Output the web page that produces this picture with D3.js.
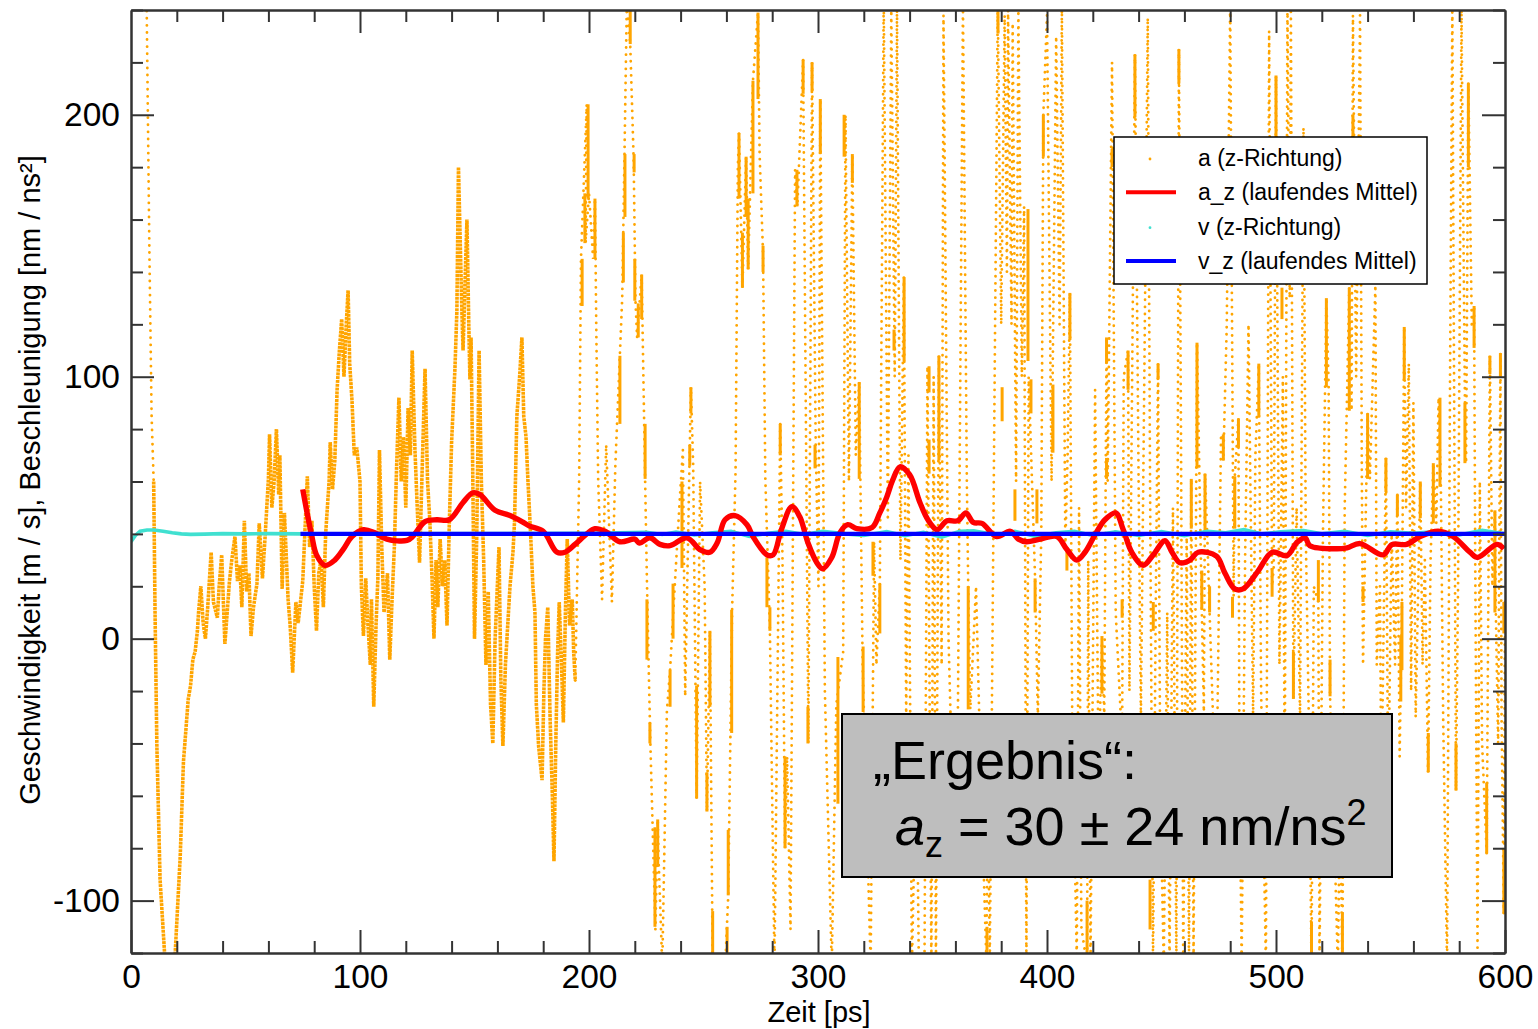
<!DOCTYPE html>
<html>
<head>
<meta charset="utf-8">
<title>Geschwindigkeit und Beschleunigung</title>
<script src="https://cdn.jsdelivr.net/npm/d3@7"></script>
<style>
  html, body { margin: 0; padding: 0; background: #fff; }
  svg { display: block; }
  text { font-family: "Liberation Sans", Arial, sans-serif; fill: #000; }
  .axis path, .axis line { stroke: #333; stroke-width: 2; }
  .axis text { font-size: 33.5px; font-family: "Liberation Sans", Arial, sans-serif; fill: #000; }
</style>
</head>
<body>
<svg id="chart" width="1538" height="1029"></svg>
<script>
// Axis ticks
const xMajor = [0, 100, 200, 300, 400, 500, 600];
const xMinor = [20, 40, 60, 80, 120, 140, 160, 180, 220, 240, 260, 280, 320, 340, 360, 380, 420, 440, 460, 480, 520, 540, 560, 580];
const yMajor = [-100, 0, 100, 200];
const yMinor = [-120, -80, -60, -40, -20, 20, 40, 60, 80, 120, 140, 160, 180, 220, 240];

// a (z-Richtung), the first fast drop from above the plot
const accelSpike = [[6.8, 245], [8, 150], [9, 85], [9.9, 60]];

// a (z-Richtung), slow trajectory, read as [t, a]
const accelDense = [
  [9.9, 60], [10.5, 10], [11.3, -41], [12.7, -92], [15, -125], [19, -125], [21.5, -83], [22.9, -47], [25, -23], [26, -18],
  [27, -8], [28, -5], [29, 3], [29.5, 10], [30.5, 20], [31.5, 6], [32.5, 0], [33.5, 12], [35, 33], [36, 14],
  [37.7, 8], [38.5, 20], [39.6, 32], [41, -2], [42, 10], [43, 22], [44, 30], [45.4, 39], [46.5, 22], [47.5, 28],
  [48.4, 12], [49.5, 45], [50.5, 18], [51.5, 25], [52.4, 1], [53.5, 12], [55, 21], [56, 44], [57.4, 23], [58.5, 38],
  [60, 61], [60.5, 78], [61.5, 50], [62.5, 60], [63.5, 80], [64.5, 55], [65, 70], [66, 19], [67, 48], [68.6, 15],
  [69.5, 5], [70.6, -13], [72, 14], [73, 6], [75, 22], [76, 42], [77, 62], [78, 35], [79, 45], [80, 20],
  [81, 3], [82, 25], [83, 30], [84, 12], [85, 40], [86.5, 60], [87, 75], [88, 57], [89, 68], [90, 95],
  [91, 110], [92, 122], [93, 100], [94, 120], [94.8, 133], [95.5, 105], [96.5, 91], [97.5, 70], [98.6, 73], [100, 60],
  [100.6, 20], [101.5, 1], [102.5, 23], [103.5, 5], [104.5, -10], [105, 15], [106, -26], [107, 5], [107.8, 23], [108.5, 72],
  [109.5, 35], [110.5, 10], [112, 25], [113, -8], [114, 15], [115, 35], [116, 66], [117, 92], [118, 60], [119, 77],
  [120, 50], [121, 88], [122, 70], [122.8, 110], [124, 72], [125, 50], [126, 29], [127, 60], [128.4, 103], [129.5, 60],
  [130.5, 45], [131.5, 22], [132.3, 0], [133.2, 30], [134, 12], [135, 38], [136, 20], [137, 30], [138, 5], [139, 44],
  [140, 75], [141.5, 104], [142.3, 125], [143, 180], [143.8, 150], [144.5, 125], [145, 110], [146, 140], [146.7, 160], [147.5, 120],
  [148, 99], [148.5, 115], [149.2, 66], [150, 0], [151, 40], [152, 110], [153, 60], [154, 30], [155, -10], [156, 18],
  [157, -25], [158, -40], [159, 0], [160.7, 35], [161.5, -15], [162.4, -41], [163.5, -10], [164.5, 5], [165.5, 20], [166.8, 33],
  [167.5, 45], [168.5, 85], [169.7, 100], [170.7, 115], [171.5, 85], [172.5, 77], [173.3, 61], [174.5, 40], [175.5, 20], [176.4, 10],
  [177, -25], [178, -41], [179.5, -54], [180.3, -20], [181, 0], [182, 12], [183, -30], [184, -60], [184.7, -85], [185.5, -40],
  [186.3, -5], [187, 14], [188, -10], [188.8, -32], [189.7, 10], [190.5, 38], [191.5, 5], [192.7, 15], [193.3, -5], [194, -16]
];

// a (z-Richtung), sparse part: fast strands read as turning points [t, a]
const accelSparse = [
  [194, -16], [195.7, 61], [196.5, 145], [199, 204], [198.5, 151], [200, 170], [201.8, 145], [202.6, 168], [203.2, 117], [204, 61], [205.7, 15],
  [207.5, 74], [210, 14], [211.5, 66], [213, 98], [214.5, 130], [215.5, 185], [216.5, 242], [218, 227], [219.5, 183], [220.3, 129],
  [221, 115], [223, 139], [224.5, 61], [225.3, 22], [226, -8], [226.8, -40], [229, -111], [230, -69], [230.5, -87], [232, -125],
  [234, -28], [235.4, -12], [237.5, 21], [239.7, 54], [241, 72], [242, -22], [244.5, 96], [245.5, 66], [247, -61], [248.5, 60],
  [250.5, 20], [251.5, -66], [252.8, 3], [254, -125], [259.5, -125], [260.8, -98], [262.5, 11], [264, 64], [265, 180], [265.5, 193],
  [267, 134], [268.6, 184], [269.5, 141], [271.6, 213], [273.8, 239], [274.5, 185], [276, 147], [277, 61], [279, 3], [281, -125],
  [283.5, 82], [284.5, 30], [285.6, -80], [286.5, -45], [288, -111], [290, 179], [291, 165], [293.5, 221], [295.8, -40], [297.4, 220],
  [299, 74], [300.2, 20], [301, 206], [303, -20], [306, -125], [308, -25], [311, -5], [312, 200], [313.5, 60], [315, 185],
  [316.5, 70], [318, 98], [319.5, -10], [321, -60], [323, -125], [324.5, 37], [325.5, -10], [327, 21], [328.7, 245], [330.5, 45],
  [332, 240], [333.5, 100], [334.5, 240], [336, 30], [337.5, 138], [338.5, -30], [339.5, 70], [341, -125], [343, -40], [344, -122],
  [346.5, -125], [347.8, 104], [349.5, -125], [350.5, 100], [351.5, -125], [352.8, 108], [354, -10], [354.8, 238], [357, 0], [358.5, -50],
  [361, -40], [363.3, 242], [365, 60], [365.6, 20], [366.5, -27], [369, 20], [371, -50], [373.5, -122], [374.3, -60], [375, -125],
  [378.5, 242], [380, 120], [381.5, 238], [382.5, 140], [383, 240], [384.5, 120], [385, 235], [386.5, 60], [387.5, 240], [389, 100],
  [390, 165], [391, -125], [392, 100], [394.8, 23], [396, -30], [397.5, 40], [398.4, 200], [400, 238], [402, 60], [404, 230],
  [405.5, 120], [406.5, 240], [408, 35], [409, 70], [410, 132], [411, -30], [413, -122], [414, 50], [415, -110], [417.5, -125],
  [418, 30], [419, -125], [421, 95], [422.5, -50], [424, 0], [425, -30], [426, 115], [426.5, 60], [428.4, 220], [430, 10],
  [432.8, -40], [433.5, 100], [435.4, 110], [436, -20], [438.4, 223], [440, 60], [441, -30], [442.5, 100], [444, 237], [445, 60],
  [446.3, -125], [447.5, 14], [448.5, 105], [449.5, -60], [451, -125], [452.5, 10], [453.5, -125], [455, 50], [456.5, -125], [457.6, 225],
  [458.5, 80], [459.5, -125], [461, 40], [462, -125], [463, 61], [464, -122], [465.5, 113], [466.5, 65], [467.6, 11], [468.5, -28],
  [469, 63], [470, 39], [471, 10], [472.5, -30], [474, -60], [476, 78], [477, 68], [478.5, 120], [480, 242], [481.5, 16],
  [482, 62], [483.6, 84], [484, -40], [485, -125], [486.5, 30], [488, 120], [490, -30], [491, 70], [492.5, 105], [493.5, -20],
  [495.6, -125], [497, 232], [498.3, 20], [499, 27], [500, 215], [501.5, -10], [503, 100], [503.8, -60], [505, 242], [506, 130],
  [506.5, 242], [507.6, -23], [509, 50], [510.5, -30], [512, 195], [513, 40], [514.5, -40], [515.5, -125], [516.5, 20], [518.5, 14],
  [519, -125], [520.5, 40], [522, 130], [523, 96], [523.6, -22], [525, -60], [527, -125], [528, -60], [529, -125], [530, 50],
  [532, 134], [533, 87], [533.6, 238], [535, 100], [536.7, 238], [537.5, 60], [538, -10], [540, 86], [541, 61], [543.4, 135],
  [544, -10], [545.4, 20], [546, -60], [548, 69], [549, -60], [550.5, 40], [552, -10], [553, 55], [554, -45], [555, 14],
  [556, 119], [556.8, 50], [558, 105], [559, -20], [560, 90], [561, -30], [563, 60], [564, -10], [565, 30], [566.4, -51],
  [567.5, 30], [568.7, 67], [570, 44], [571, 92], [572, 58], [573, -30], [574.7, -125], [576, 100], [577, 242], [578.6, -58],
  [579.5, 20], [581, 240], [582.5, 90], [583, 67], [584, 212], [585.5, 120], [586.5, 127], [587, 30], [588, -118], [589, 60],
  [590, -40], [592, -82], [593.4, 108], [594.5, 20], [595.6, 49], [596, 10], [597, -40], [598, 109], [598.5, -30], [599.5, -105], [600, 14]
];

// a (z-Richtung), runs where the samples pile up into a solid strand: [t, high, low]
const accelRuns = [
  [199.6, 204, 168], [198.2, 170, 151], [202.6, 168, 145], [197, 145, 127], [215.7, 185, 161], [215, 155, 136], [213.5, 108, 82],
  [218, 240, 227], [219.7, 185, 178], [220, 145, 129], [221.5, 128, 115], [223, 139, 122], [224.5, 82, 61], [225.3, 15, -8],
  [226.6, -32, -40], [228.8, -72, -110], [230, -69, -87], [235.4, -12, -26], [236.7, 21, 0], [240.6, 60, 27], [244.5, 96, 86],
  [244, 74, 66], [247, -18, -61], [251.5, -51, -66], [252.8, 3, -26], [254, -104, -120], [260.3, -110, -120], [260.8, -73, -98],
  [262.3, 11, -36], [265.5, 193, 168], [268.6, 184, 161], [269.5, 168, 141], [267, 155, 134], [271.6, 213, 170], [273.8, 239, 206],
  [276, 150, 140], [279, 12, 3], [277.7, 31, 12], [285.6, -45, -80], [283.5, 82, 70], [293.5, 221, 208], [297.4, 220, 209],
  [290.8, 179, 165], [301, 206, 185], [298.7, 74, 65], [295.6, -26, -40], [308.7, -7, -63], [311.4, 200, 184], [315, 185, 174],
  [318, 98, 61], [337.6, 138, 106], [333.2, 118, 110], [348.5, 104, 94], [348.5, 76, 63], [352.8, 108, 68], [378.6, 240, 231],
  [391.7, 164, 106], [393, 99, 86], [380.4, 96, 83], [398.4, 200, 184], [410, 132, 114], [402.6, 97, 71], [426, 115, 105],
  [426, 69, 61], [435.4, 110, 95], [428.4, 187, 180], [438.4, 223, 199], [448.5, 105, 99], [457.6, 225, 212], [324, 37, 24],
  [327, 21, 2], [319.7, -3, -28], [365.6, 20, -27], [394.8, 23, 10], [395.6, 57, 44], [386, 57, 45], [408.7, 35, 26],
  [424, 1, -21], [432.8, 15, 8], [446.4, 14, 3], [373.8, -110, -120], [566.5, -36, -51], [592, -55, -82], [599.5, -80, -105],
  [515.5, -108, -120], [529, -105, -120], [445, -92, -111], [417.5, -100, -120], [465.5, 113, 65], [469, 63, 39], [463, 61, 42],
  [477, 78, 68], [483.6, 84, 73], [482, 62, 42], [492.5, 105, 85], [502.6, 134, 122], [522, 130, 96], [532, 134, 87],
  [540, 86, 61], [548, 69, 56], [553, 55, 47], [556, 119, 99], [563, 60, 46], [568.7, 67, 44], [571.6, 92, 58], [582.5, 90, 67],
  [586.5, 127, 111], [593.4, 108, 101], [598, 109, 100], [595.6, 49, 10], [599.5, 14, 2], [518.5, 30, 14], [467.6, 26, 11],
  [471, 20, 10], [481, 16, 8], [498.3, 27, 16], [538, 20, 14], [555, 14, -12], [554.5, 1, -24], [507.6, -5, -23], [523.6, -8, -22],
  [500, 215, 178], [533.6, 200, 178], [584, 212, 180], [578.6, -40, -58]
];

// a_z (laufendes Mittel)
const accelMean = [
  [75, 57], [76.9, 48], [79, 39], [81, 32], [84.7, 28], [89, 30], [92.6, 34], [96.5, 39], [101.5, 41.6], [106.5, 40.4],
  [111.7, 38], [120.5, 37.5], [123, 39], [128.4, 44.7], [133.6, 45.4], [139, 45.4], [145, 52], [149.3, 55.7], [152.4, 55], [159, 49],
  [165.5, 47], [170.7, 44.7], [174, 43], [180, 41], [186, 33], [189.5, 33], [193.9, 36], [199, 40], [202.6, 42], [207, 41],
  [213.5, 37], [220, 38], [222, 36.5], [226.6, 38.5], [231, 36], [235.4, 35.5], [242.8, 38.5], [248.5, 34], [252.8, 33], [256, 36.6],
  [259.4, 45.4], [263.8, 47], [269, 43.5], [271.6, 39], [277.7, 32], [280.4, 32], [284, 41.6], [288.6, 50.4], [292, 46.6], [295.6, 36.6],
  [299.5, 29], [302, 26.7], [306, 31], [309.6, 40.5], [313, 43.5], [317, 42], [323.6, 42.4], [327, 48], [330, 54], [332.7, 60.7],
  [335.8, 65.6], [340, 62.6], [344.5, 52], [348, 45.4], [352, 41.6], [356.3, 45], [361, 45], [364.6, 48], [367.8, 44.4], [371.6, 44],
  [378, 39], [384, 41], [387.5, 38], [391, 37], [397, 38], [404.3, 39], [408.7, 34], [413, 30], [416.6, 33], [421, 39.7],
  [425.3, 45.4], [430, 48], [433.3, 41.6], [437, 33], [442, 28], [446.4, 32], [451.5, 37.4], [454.6, 33], [458, 29], [462.4, 30],
  [466, 33], [474, 31.5], [477.7, 25], [482, 19], [485.6, 19], [492, 25.6], [498.3, 33], [504.8, 31.7], [509, 36.6], [512.7, 38.5],
  [514.8, 35.5], [526.6, 34.3], [531, 34.7], [536.7, 36.3], [546.8, 32], [550.6, 35.9], [557, 36], [563, 39], [570.8, 41], [577.3, 39],
  [584.7, 33], [588, 31], [596.5, 36], [599.5, 34.3]
];

// v (z-Richtung)
const velocity = [
  [0, 37], [2, 39.5], [4, 41], [7, 41.5], [10, 41.5], [14, 41], [18, 40.4], [22, 40], [26, 39.8], [32, 39.9],
  [40, 40.1], [50, 40], [60, 40.1], [75, 40], [100, 40], [200, 40.2], [225, 40.6], [232, 39.8], [238, 40.7], [246, 39.6],
  [254, 40.4], [262, 41], [270, 39], [278, 40.2], [286, 41], [294, 39.8], [302, 41], [312, 40], [320, 39.4], [330, 40.9],
  [338, 39.3], [346, 40.6], [354, 38.8], [362, 41], [368, 41.2], [378, 39.6], [386, 41], [395, 39], [404, 40.4], [412, 41],
  [420, 39.4], [430, 40.8], [440, 39.4], [450, 40.9], [460, 39.3], [470, 41], [478, 40.4], [486, 41.6], [494, 40], [502, 40.8],
  [512, 41.3], [520, 40], [530, 41], [540, 39.4], [550, 40.8], [560, 40.2], [570, 40.9], [580, 39.6], [590, 41.4], [600, 40]
];

// v_z (laufendes Mittel)
const velocityMean = [[74, 40], [600, 40]];

// Legend rows
const legendLabels = ['a (z-Richtung)', 'a_z (laufendes Mittel)', 'v (z-Richtung)', 'v_z (laufendes Mittel)'];

const margin = { top: 10, right: 33, bottom: 76, left: 131 };
const width = 1538 - margin.left - margin.right;
const height = 1029 - margin.top - margin.bottom;

const svg = d3.select('#chart');
const g = svg.append('g').attr('transform', `translate(${margin.left}, ${margin.top})`);

const x = d3.scaleLinear().domain([0, 600]).range([0, width]);
const y = d3.scaleLinear().domain([-120, 240]).range([height, 0]);

g.append('clipPath').attr('id', 'plot-clip')
  .append('rect').attr('width', width).attr('height', height);

const plot = g.append('g').attr('clip-path', 'url(#plot-clip)');

const line = d3.line().x(d => x(d[0])).y(d => y(d[1]));

// Trajectories of a, drawn as rows of small dots
[accelSpike, accelSparse].forEach((samples) => {
  plot.append('path')
    .attr('d', line(samples))
    .attr('fill', 'none')
    .attr('stroke', '#ffa500')
    .attr('stroke-width', 2.8)
    .attr('stroke-linecap', 'round')
    .attr('stroke-dasharray', '0.1 7');
});

plot.append('path')
  .attr('d', line(accelDense))
  .attr('fill', 'none')
  .attr('stroke', '#ffa500')
  .attr('stroke-width', 3.6)
  .attr('stroke-dasharray', '3 0.8');

plot.selectAll('.run')
  .data(accelRuns)
  .enter()
  .append('line')
    .attr('class', 'run')
    .attr('x1', d => x(d[0]))
    .attr('x2', d => x(d[0]))
    .attr('y1', d => y(d[1]))
    .attr('y2', d => y(d[2]))
    .attr('stroke', '#ffa500')
    .attr('stroke-width', 3);

// v and the two running means
plot.append('path')
  .attr('d', line(velocity))
  .attr('fill', 'none')
  .attr('stroke', '#40e0d0')
  .attr('stroke-width', 3.6);

plot.append('path')
  .attr('d', line.curve(d3.curveCatmullRom)(accelMean))
  .attr('fill', 'none')
  .attr('stroke', '#ff0000')
  .attr('stroke-width', 5.4)
  .attr('stroke-linejoin', 'round');

plot.append('path')
  .attr('d', line.curve(d3.curveLinear)(velocityMean))
  .attr('fill', 'none')
  .attr('stroke', '#0000ff')
  .attr('stroke-width', 4.4);

// Axes with major and minor ticks, mirrored on the opposite sides
g.append('g').attr('class', 'axis')
  .attr('transform', `translate(0, ${height})`)
  .call(d3.axisBottom(x).tickValues(xMinor).tickFormat('').tickSize(-12).tickSizeOuter(0));

g.append('g').attr('class', 'axis x-major')
  .attr('transform', `translate(0, ${height})`)
  .call(d3.axisBottom(x).tickValues(xMajor).tickFormat(d3.format('d')).tickSize(-23).tickSizeOuter(0).tickPadding(11))
  .selectAll('text')
    .attr('dy', '0.71em');

g.append('g').attr('class', 'axis')
  .call(d3.axisTop(x).tickValues(xMinor).tickFormat('').tickSize(-12).tickSizeOuter(0));

g.append('g').attr('class', 'axis')
  .call(d3.axisTop(x).tickValues(xMajor.slice(1, -1)).tickFormat('').tickSize(-23).tickSizeOuter(0));

g.append('g').attr('class', 'axis')
  .call(d3.axisLeft(y).tickValues(yMinor).tickFormat('').tickSize(-12).tickSizeOuter(0));

// Plain hyphen in the negative label, as in the original
g.append('g').attr('class', 'axis')
  .call(d3.axisLeft(y).tickValues(yMajor).tickFormat(d => String(d)).tickSize(-23).tickSizeOuter(0).tickPadding(11));

g.append('g').attr('class', 'axis')
  .attr('transform', `translate(${width}, 0)`)
  .call(d3.axisRight(y).tickValues(yMinor).tickFormat('').tickSize(-12).tickSizeOuter(0));

g.append('g').attr('class', 'axis')
  .attr('transform', `translate(${width}, 0)`)
  .call(d3.axisRight(y).tickValues(yMajor).tickFormat('').tickSize(-23).tickSizeOuter(0));

// Axis titles
svg.append('text')
  .attr('x', 819)
  .attr('y', 1022)
  .attr('text-anchor', 'middle')
  .attr('font-size', 29)
  .text('Zeit [ps]');

svg.append('text')
  .attr('transform', 'translate(40, 480) rotate(-90)')
  .attr('text-anchor', 'middle')
  .attr('font-size', 29)
  .text('Geschwindigkeit [m / s], Beschleunigung [nm / ns²]');

// Legend
const legend = svg.append('g');

legend.append('rect')
  .attr('x', 1114)
  .attr('y', 137)
  .attr('width', 313)
  .attr('height', 147)
  .attr('fill', '#fff')
  .attr('stroke', '#000')
  .attr('stroke-width', 1.5);

const legendY = d3.scalePoint().domain(legendLabels).range([158, 261]);

legend.selectAll('.legend-label')
  .data(legendLabels)
  .enter()
  .append('text')
    .attr('class', 'legend-label')
    .attr('x', 1198)
    .attr('y', d => legendY(d) + 8)
    .attr('font-size', 23)
    .text(d => d);

legend.selectAll('.legend-dot')
  .data([[legendLabels[0], '#ffa500'], [legendLabels[2], '#40e0d0']])
  .enter()
  .append('circle')
    .attr('class', 'legend-dot')
    .attr('cx', 1150)
    .attr('cy', d => legendY(d[0]) + 1)
    .attr('r', 1.4)
    .attr('fill', d => d[1]);

legend.selectAll('.legend-line')
  .data([[legendLabels[1], '#ff0000'], [legendLabels[3], '#0000ff']])
  .enter()
  .append('line')
    .attr('class', 'legend-line')
    .attr('x1', 1126)
    .attr('x2', 1176)
    .attr('y1', d => legendY(d[0]))
    .attr('y2', d => legendY(d[0]))
    .attr('stroke', d => d[1])
    .attr('stroke-width', 4);

// Result box
const box = svg.append('g');

box.append('rect')
  .attr('x', 842)
  .attr('y', 714)
  .attr('width', 550)
  .attr('height', 163)
  .attr('fill', '#bebebe')
  .attr('stroke', '#000')
  .attr('stroke-width', 2);

box.append('text')
  .attr('x', 873)
  .attr('y', 779)
  .attr('font-size', 54)
  .text('„Ergebnis“:');

const result = box.append('text')
  .attr('x', 895)
  .attr('y', 845)
  .attr('font-size', 54);

result.append('tspan').attr('font-style', 'italic').text('a');
result.append('tspan').attr('font-size', 36).attr('dy', 12).text('z');
result.append('tspan').attr('dy', -12).text(' = 30 ± 24 nm/ns');
result.append('tspan').attr('font-size', 36).attr('dy', -20).text('2');
</script>
</body>
</html>
